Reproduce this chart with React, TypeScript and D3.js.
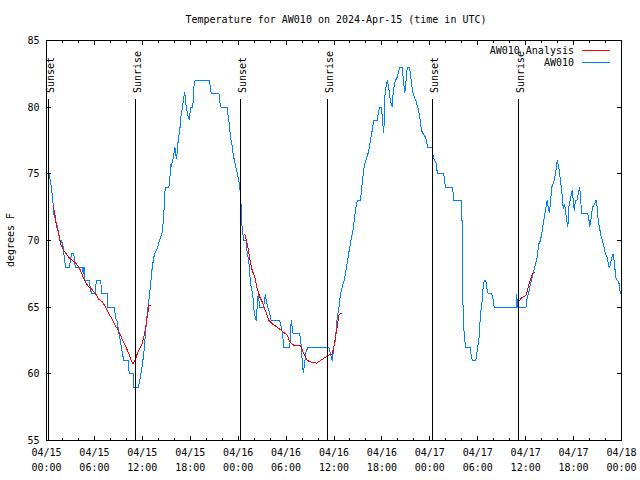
import React from "react";
import * as d3 from "d3";

// ---- data (hours since 2024-04-15 00:00 UTC) ----
const startUTC = Date.UTC(2024, 3, 15, 0, 0);
const title = "Temperature for AW010 on 2024-Apr-15 (time in UTC)";
const yLabel = "degrees F";
const seriesNames = ["AW010 Analysis", "AW010"];
const yTicks = [55, 60, 65, 70, 75, 80, 85];
const xMajorTicks = [0, 6, 12, 18, 24, 30, 36, 42, 48, 54, 60, 66, 72];

const sunEvents = ["Sunset", "Sunrise", "Sunset", "Sunrise", "Sunset", "Sunrise"];
const sunHours = [0.26, 11.18, 24.32, 35.2, 48.36, 59.12];

const obsHours = [
  0.29, 0.41, 0.63, 0.79, 0.91, 1.34, 1.67, 1.88, 2.09, 2.25, 2.38, 2.84, 2.97, 3.13, 3.42, 3.51, 3.63, 4.47, 4.6, 4.7,
  4.76, 5.38, 5.51, 5.72, 6.14, 6.22, 6.8, 6.89, 7.6, 7.64, 8.48, 8.64, 8.85, 9.05, 9.27, 9.48, 9.68, 10.23, 10.36, 10.86,
  10.93, 11.48, 11.68, 11.98, 12.18, 12.4, 12.61, 12.81, 13.02, 13.24, 13.52, 13.86, 14.15, 14.49, 14.69, 14.78, 14.9, 15.31, 15.44, 15.53,
  15.65, 15.94, 16.07, 16.28, 16.49, 16.69, 16.82, 17.03, 17.19, 17.32, 17.44, 17.74, 17.91, 18.03, 18.32, 18.44, 18.6, 20.37, 20.54, 20.62,
  21.6, 21.7, 21.85, 22.63, 22.7, 22.88, 23.04, 23.25, 23.38, 23.54, 23.79, 24.08, 24.29, 24.38, 24.4, 24.58, 24.71, 24.98, 25.13, 25.33,
  25.46, 25.63, 25.83, 25.96, 26.13, 26.26, 26.38, 26.51, 26.71, 27.17, 27.42, 27.51, 27.71, 27.96, 28.14, 29.21, 29.39, 29.55, 29.71, 30.47,
  30.64, 30.77, 30.89, 31.72, 31.89, 32.02, 32.14, 32.31, 32.43, 32.72, 35.35, 35.56, 35.77, 35.98, 36.19, 36.31, 36.48, 36.65, 36.81, 37.03,
  37.32, 37.53, 37.73, 37.94, 38.15, 38.41, 38.69, 38.91, 39.32, 39.57, 39.82, 40.07, 40.36, 40.57, 40.78, 40.98, 41.41, 41.53, 41.74, 41.95,
  42.11, 42.24, 42.36, 42.57, 42.7, 42.86, 42.99, 43.11, 43.29, 43.41, 43.58, 43.7, 43.91, 44.11, 44.24, 44.54, 44.61, 44.74, 44.87, 45.02,
  45.17, 45.45, 45.58, 45.71, 45.87, 46.08, 46.29, 46.49, 46.74, 46.96, 47.17, 47.46, 47.75, 48.3, 48.42, 48.59, 48.84, 48.93, 49.75, 49.88,
  50.0, 50.8, 50.88, 51.0, 52.0, 52.05, 52.13, 52.31, 52.51, 53.06, 53.13, 53.31, 53.76, 53.93, 54.18, 54.34, 54.56, 54.68, 54.81, 55.01,
  55.13, 55.31, 55.76, 55.94, 56.06, 58.89, 58.9, 58.94, 60.04, 60.19, 60.39, 60.61, 60.82, 61.02, 61.23, 61.44, 61.65, 61.86, 62.07, 62.27,
  62.48, 62.69, 62.82, 62.99, 63.11, 63.27, 63.52, 63.74, 63.95, 64.15, 64.36, 64.57, 64.7, 64.86, 64.99, 65.11, 65.28, 65.4, 65.7, 65.83,
  65.95, 66.08, 66.24, 66.45, 66.58, 66.74, 66.87, 66.99, 67.78, 67.91, 68.03, 68.21, 68.37, 68.66, 68.83, 68.96, 69.08, 69.25, 69.46, 69.62,
  69.78, 69.99, 70.2, 70.45, 70.53, 70.74, 70.95, 71.12, 71.28, 71.46, 71.66, 71.87, 71.95,
];
const obsTemps = [
  75, 74.75, 73.9, 73, 72, 71.1, 70, 70, 69.5, 68.6, 68, 68, 68.4, 69, 69, 68.4, 68, 68, 67.5, 68,
  67, 67, 66.25, 66, 66, 67, 67, 66, 66, 65, 65, 64.25, 63.9, 63.1, 62.4, 61.6, 61, 61, 60, 60,
  59, 59, 59.5, 60.6, 61.5, 63.1, 64.5, 65.5, 66.6, 68, 69, 69.4, 70, 70.6, 71.9, 73.4, 74, 74, 74.5, 75.75,
  75.6, 76.4, 77, 76.1, 77.5, 78.25, 79.25, 80, 80.75, 81.1, 80.25, 79.25, 79.1, 80, 80, 81.5, 82, 82, 81.5, 81,
  81, 80.4, 80, 80, 79.5, 78.75, 77.75, 77.1, 76.4, 76, 75.3, 74.5, 73.5, 72.5, 71.6, 70.5, 70, 70, 69.1, 68.5,
  67.4, 66.5, 65.9, 64.9, 64.25, 64, 65, 66, 65, 65, 66, 65.5, 65, 64.5, 64, 64, 63.5, 63, 62, 62,
  64, 63.5, 63, 63, 62.1, 61, 60.1, 60.6, 61.5, 62, 62, 61.5, 61, 62, 62.5, 63.75, 64.5, 65.1, 66, 66.5,
  67.1, 67.9, 68.6, 69.4, 70.1, 70.9, 72.25, 73, 73, 74.5, 75.75, 76.1, 76.75, 77.5, 78.25, 79, 79, 79.5, 80, 80,
  78.75, 78.1, 80.75, 81.75, 82, 81.4, 80.75, 80.4, 80, 81.1, 81.75, 82, 82.25, 82.75, 83, 83, 82.5, 81.75, 81.1, 82,
  83, 83, 82.5, 81.75, 81.1, 80.75, 80.4, 80, 79.25, 78.25, 78, 77.75, 77, 77, 76.25, 76, 75.75, 75, 75, 74.3,
  74, 74, 73.75, 73, 73, 70.5, 65.5, 62.75, 62, 62, 61.55, 61, 61, 61.75, 62.75, 64.5, 65.5, 66.5, 67, 67,
  66.4, 66, 66, 65.5, 65, 65, 66, 65, 65, 65.75, 66.1, 66.75, 67.25, 67.75, 68.25, 68.75, 69.75, 70, 70.75, 71.5,
  72.25, 73, 72.5, 72.1, 72.9, 74, 74.4, 75, 76, 75.5, 74.5, 73.4, 72.4, 72.75, 72.25, 71.6, 71, 72.5, 73.4, 73.75,
  73.1, 72.25, 73, 73.05, 73.5, 74, 73.4, 72, 72, 71.6, 71.05, 71.75, 72.5, 72.75, 73.05, 72.5, 71.5, 70.95, 70.25, 70,
  69.6, 69, 68.75, 68, 68, 68.6, 69, 68.25, 67.25, 67, 66.9, 66, 66,
];

// analysis segments (NaN = gap)
const anaHours = [
  0.79, 1.04, 1.25, 1.54, 1.75, 2.17, 2.59, 3.01, 3.51, 3.92, 4.26, 4.76, 5.17, 5.6, 6.14, 6.55, 6.97, 7.39, 7.8, 8.23,
  8.64, 9.05, 9.48, 9.89, 10.31, 10.61, 10.86, 11.14, 11.36, 11.77, 11.98, 12.27, 12.48, 12.65, 12.81, 13.11, NaN,
  24.83, 25.26, 25.46, 25.76, 26.08, 26.38, 26.71, 27.01, 27.3, 27.64, 27.84, 28.26, 28.89, 29.3, 29.71, 30.14, 30.47, 30.77, 31.18, 31.81,
  32.22, 32.64, 33.06, 33.81, 34.31, 34.94, 35.35, 35.77, 35.98, 36.19, 36.4, 36.6, 36.81, 36.94, NaN,
  59.06, 59.57, 59.89, 60.1, 60.27, 60.61, 60.86, 61.11,
];
const anaTemps = [
  72.7, 72, 71.1, 70.5, 69.75, 69.25, 68.9, 68.6, 68.4, 68.1, 67.75, 67, 66.6, 66.4, 66, 65.6, 65.4, 65.05, 64.5, 64.1,
  63.6, 63.2, 62.6, 62.1, 61.5, 61, 60.75, 61.1, 61.5, 62, 62.25, 63, 63.75, 64.4, 65.1, 65.1, NaN,
  70.5, 69.4, 68.6, 67.75, 67.25, 66.4, 65.75, 65.4, 64.9, 64.4, 64, 63.75, 63.5, 63.3, 63.1, 62.9, 62.4, 62.2, 62.1, 62.1,
  61.5, 61, 60.9, 60.8, 61, 61.25, 61.4, 61.5, 62, 62.75, 63.5, 64.4, 64.55, 64.55, NaN,
  65.4, 65.75, 65.8, 65.95, 66.4, 67.1, 67.55, 67.6,
];

const colors = { analysis: "#ff0000", obs: "#0080ff" };
const FONT = "'DejaVu Sans Mono', 'Liberation Mono', monospace";

export default function App() {
  const W = 640, H = 480;
  const L = 46, R = 621, T = 40, B = 440;
  const x = d3.scaleLinear().domain([0, 72]).range([L + 0.5, R + 0.5]);
  const y = d3.scaleLinear().domain([55, 85]).range([B + 0.5, T + 0.5]);

  const obs = obsHours.map((h, i) => [h, obsTemps[i]] as [number, number]);
  const ana = anaHours.map((h, i) => [h, anaTemps[i]] as [number, number]);
  const line = d3
    .line<[number, number]>()
    .defined((d) => !isNaN(d[0]) && !isNaN(d[1]))
    .x((d) => x(d[0]))
    .y((d) => y(d[1]));

  const minorTicks = d3.range(0, 73, 2).filter((h) => h % 6 !== 0);
  const fmtD = d3.utcFormat("%m/%d");
  const fmtT = d3.utcFormat("%H:%M");
  const toDate = (h: number) => new Date(startUTC + h * 3600 * 1000);

  const major = 5, minor = 3;

  return (
    <svg
      width={W}
      height={H}
      style={{ position: "absolute", left: 0, top: 0, background: "#fff" }}
      fontFamily={FONT}
      fontSize={10}
    >
      <rect x={0} y={0} width={W} height={H} fill="#fff" />
      {/* title */}
      <text x={336} y={23} textAnchor="middle" fill="#000">{title}</text>

      {/* y ticks */}
      {yTicks.map((v) => (
        <g key={"y" + v} shapeRendering="crispEdges">
          <line x1={L} x2={L + major} y1={y(v)} y2={y(v)} stroke="#000" />
          <line x1={R + 1 - major} x2={R + 1} y1={y(v)} y2={y(v)} stroke="#000" />
          <text x={39.5} y={y(v) + 3.6} textAnchor="end" fill="#000" shapeRendering="auto">{v}</text>
        </g>
      ))}

      {/* x ticks */}
      {xMajorTicks.map((h) => (
        <g key={"x" + h} shapeRendering="crispEdges">
          <line x1={x(h)} x2={x(h)} y1={B + 1} y2={B + 1 - major} stroke="#000" />
          <line x1={x(h)} x2={x(h)} y1={T} y2={T + major} stroke="#000" />
          <text x={x(h)} y={456} textAnchor="middle" fill="#000">{fmtD(toDate(h))}</text>
          <text x={x(h)} y={471} textAnchor="middle" fill="#000">{fmtT(toDate(h))}</text>
        </g>
      ))}
      {minorTicks.map((h) => (
        <g key={"m" + h} shapeRendering="crispEdges">
          <line x1={x(h)} x2={x(h)} y1={B + 1} y2={B + 1 - minor} stroke="#000" />
          <line x1={x(h)} x2={x(h)} y1={T} y2={T + minor} stroke="#000" />
        </g>
      ))}

      {/* y label */}
      <text transform={`translate(14,240) rotate(-90)`} textAnchor="middle" fill="#000">{yLabel}</text>

      {/* data */}
      <path d={line(obs) || ""} fill="none" stroke={colors.obs} strokeWidth={1} shapeRendering="crispEdges" />
      <path d={line(ana) || ""} fill="none" stroke={colors.analysis} strokeWidth={1} shapeRendering="crispEdges" />

      {/* sun events */}
      {sunHours.map((h, i) => (
        <g key={"s" + i}>
          <line x1={Math.floor(x(h)) + 0.5} x2={Math.floor(x(h)) + 0.5} y1={99} y2={B + 1} stroke="#000" shapeRendering="crispEdges" />
          <text transform={`translate(${Math.floor(x(h)) + 6},93) rotate(-90)`} textAnchor="start" fill="#000">{sunEvents[i]}</text>
        </g>
      ))}

      {/* legend */}
      <text x={574} y={53.5} textAnchor="end" fill="#000">{seriesNames[0]}</text>
      <line x1={582} x2={610} y1={50.5} y2={50.5} stroke={colors.analysis} shapeRendering="crispEdges" />
      <text x={574} y={65.5} textAnchor="end" fill="#000">{seriesNames[1]}</text>
      <line x1={582} x2={610} y1={62.5} y2={62.5} stroke={colors.obs} shapeRendering="crispEdges" />

      {/* frame */}
      <rect x={L + 0.5} y={T + 0.5} width={R - L} height={B - T} fill="none" stroke="#000" shapeRendering="crispEdges" />
    </svg>
  );
}
